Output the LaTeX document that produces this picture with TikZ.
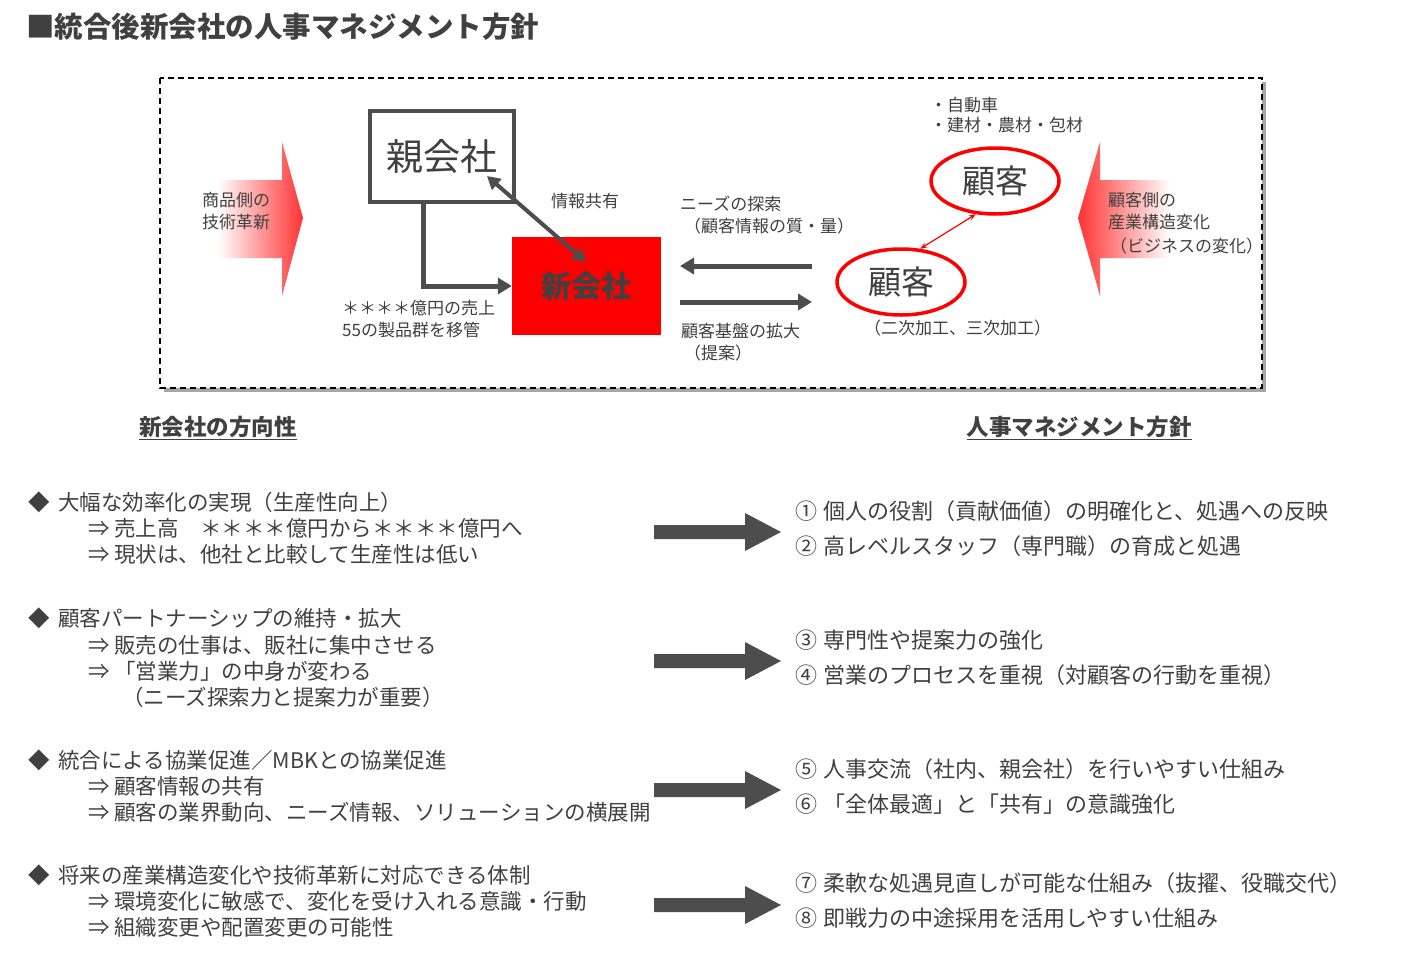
\documentclass[tikz,border=0pt]{standalone}
\usepackage{fontspec}
\setmainfont{Noto Sans CJK JP}
\usetikzlibrary{arrows.meta,shadows,shapes.geometric}
\definecolor{tx}{HTML}{404040}
\definecolor{ag}{HTML}{4D4D4D}
\begin{document}
\begin{tikzpicture}[x=1pt,y=-1pt,
  every node/.style={text=tx,inner sep=0pt},
  lt/.style={anchor=west,font=\fontsize{17}{19}\selectfont},
  li/.style={anchor=west,font=\fontsize{21.5}{23}\selectfont},
  ri/.style={anchor=west,font=\fontsize{22}{24}\selectfont},
  darr/.style={draw=ag,line width=5pt,-{Triangle[length=14pt,width=16pt]}},
  ell/.style={draw=red,line width=3.5pt,ellipse,minimum width=128pt,minimum height=66pt}]
\useasboundingbox (0,0) rectangle (1423,966);
% title
\node[anchor=west,font=\bfseries\fontsize{28.5}{30}\selectfont] (title) at (26,27) {■統合後新会社の人事マネジメント方針};
% dashed box
\fill[gray!70] (164,82) rectangle (1266,392);
\draw[dashed,line width=1.6pt,fill=white,dash pattern=on 6pt off 4pt] (160,78) rectangle (1262,388);
% left big gradient arrow
\shade[left color=white,right color=red!80] (218,180) -- (282,180) -- (282,142) -- (303,218) -- (282,296) -- (282,258) -- (218,258) -- cycle;
\node[lt] (l1) at (202,200) {商品側の};
\node[lt] (l2) at (202,222) {技術革新};
% right big gradient arrow
\shade[right color=white,left color=red!80] (1170,180) -- (1100,180) -- (1100,142) -- (1078,218) -- (1100,296) -- (1100,258) -- (1170,258) -- cycle;
\node[lt] (r1) at (1108,200) {顧客側の};
\node[lt] (r2) at (1108,222) {産業構造変化};
\node[lt] (r3) at (1110,246) {（ビジネスの変化）};
% parent and new company
\node[draw=ag,line width=4pt,fill=white,minimum width=144pt,minimum height=91pt,font=\fontsize{37}{39}\selectfont] (oya) at (441.5,156) {親会社};
\node[fill=red,minimum width=149pt,minimum height=98pt,font=\bfseries\fontsize{30}{32}\selectfont] (shin) at (586.5,286) {新会社};
\draw[line width=5pt,ag,-{Triangle[length=14pt,width=16pt]}] (423,203) |- (shin.west);
\draw[line width=4pt,ag,{Triangle[length=13pt,width=14pt]}-{Triangle[length=13pt,width=14pt]}] (487,176) -- (586,262);
\node[lt] (jk) at (551,201) {情報共有};
\node[lt] (s1) at (342,308) {＊＊＊＊億円の売上};
\node[lt] (s2) at (342,330) {55の製品群を移管};
% customers
\node[ell,font=\fontsize{33}{35}\selectfont] (k1) at (995,181) {顧客};
\node[ell,font=\fontsize{33}{35}\selectfont] (k2) at (901,282) {顧客};
\draw[red,line width=1.2pt,{Stealth[length=7pt]}-{Stealth[length=7pt]}] (k1.240) -- (k2.60);
\node[lt] (b1) at (930,105) {・自動車};
\node[lt] (b2) at (930,125) {・建材・農材・包材};
\node[lt] (kk) at (864,328) {（二次加工、三次加工）};
\coordinate (a1) at (812,266); \coordinate (a2) at (680,266);
\coordinate (a3) at (680,302); \coordinate (a4) at (812,302);
\draw[darr] (a1) -- (a2);
\draw[darr] (a3) -- (a4);
\node[lt] (n1) at (680,204) {ニーズの探索};
\node[lt] (n2) at (684,226) {（顧客情報の質・量）};
\node[lt] (n3) at (681,331) {顧客基盤の拡大};
\node[lt] (n4) at (684,353) {（提案）};
% headings
\node[font=\bfseries\fontsize{22.5}{24}\selectfont] (h1) at (218,428) {\underline{新会社の方向性}};
\node[font=\bfseries\fontsize{22.5}{24}\selectfont] (h2) at (1079,428) {\underline{人事マネジメント方針}};
% left lists
\foreach \y/\a/\b/\c in {502/大幅な効率化の実現（生産性向上）/⇒ 売上高\quad ＊＊＊＊億円から＊＊＊＊億円へ/⇒ 現状は、他社と比較して生産性は低い,
  760/統合による協業促進／MBKとの協業促進/⇒ 顧客情報の共有/⇒ 顧客の業界動向、ニーズ情報、ソリューションの横展開,
  875/将来の産業構造変化や技術革新に対応できる体制/⇒ 環境変化に敏感で、変化を受け入れる意識・行動/⇒ 組織変更や配置変更の可能性}{
  \node[li] at (28,\y) {◆};
  \node[li] at (58,\y) {\a};
  \node[li] at (88,\y+26) {\b};
  \node[li] at (88,\y+52) {\c};
}
\node[li] (p0) at (28,618) {◆};
\node[li] (p1) at (58,618) {顧客パートナーシップの維持・拡大};
\node[li] (p2) at (88,645) {⇒ 販売の仕事は、販社に集中させる};
\node[li] (p3) at (88,671) {⇒ 「営業力」の中身が変わる};
\node[li] (p4) at (122,697) {（ニーズ探索力と提案力が重要）};
% big arrows
\foreach \y in {532,661,790,905}{
  \fill[ag] (654,\y-7) -- (745,\y-7) -- (745,\y-19) -- (781,\y) -- (745,\y+19) -- (745,\y+7) -- (654,\y+7) -- cycle;
}
% right lists
\node[ri] at (795,511) {①\hspace{6pt}個人の役割（貢献価値）の明確化と、処遇への反映};
\node[ri] at (795,546) {②\hspace{6pt}高レベルスタッフ（専門職）の育成と処遇};
\node[ri] at (795,640) {③\hspace{6pt}専門性や提案力の強化};
\node[ri] at (795,675) {④\hspace{6pt}営業のプロセスを重視（対顧客の行動を重視）};
\node[ri] at (795,769) {⑤\hspace{6pt}人事交流（社内、親会社）を行いやすい仕組み};
\node[ri] at (795,804) {⑥\hspace{6pt}「全体最適」と「共有」の意識強化};
\node[ri] at (795,883) {⑦\hspace{6pt}柔軟な処遇見直しが可能な仕組み（抜擢、役職交代）};
\node[ri] at (795,918) {⑧\hspace{6pt}即戦力の中途採用を活用しやすい仕組み};
\end{tikzpicture}
\end{document}
